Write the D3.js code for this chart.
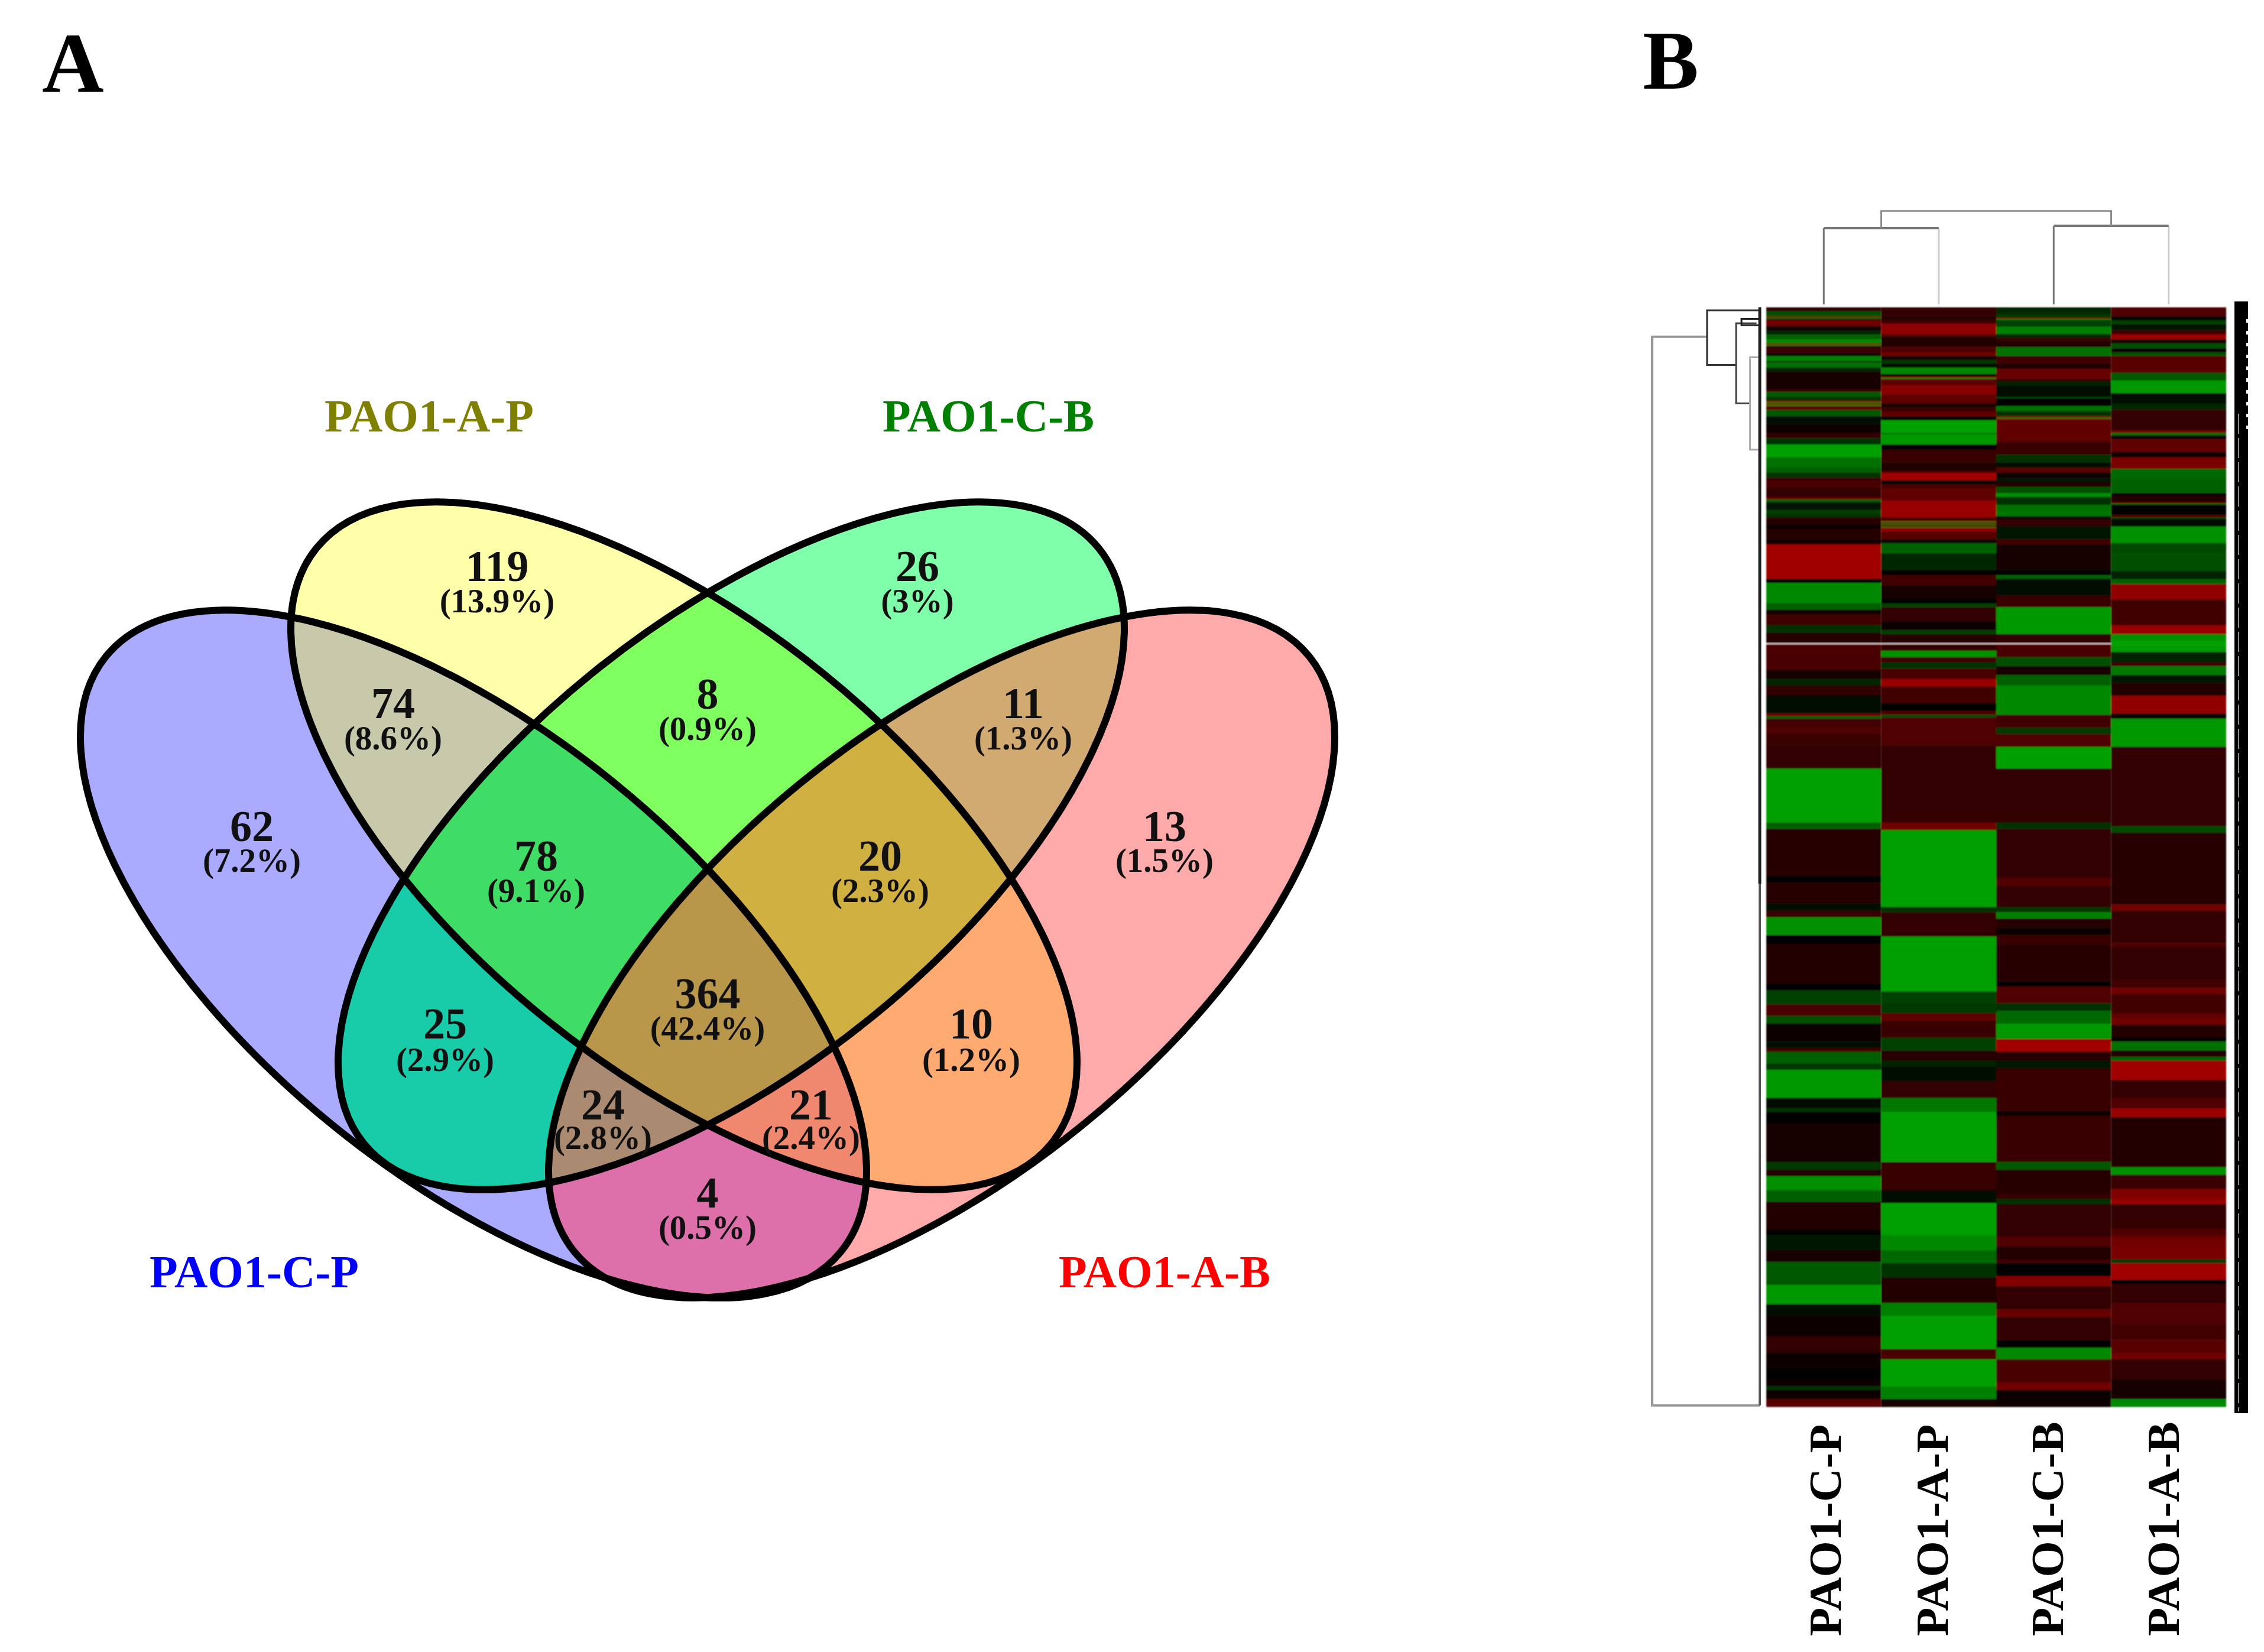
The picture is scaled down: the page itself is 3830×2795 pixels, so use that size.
<!DOCTYPE html>
<html><head><meta charset="utf-8">
<script src="https://cdn.jsdelivr.net/npm/d3@7"></script>
<style>html,body{margin:0;padding:0;background:#fff}svg{display:block}text{font-family:"Liberation Serif",serif;font-weight:bold}</style>
</head><body><svg id="c" width="3830" height="2795"></svg>
<script>
// ---------- Venn data ----------
const setNames = ["PAO1-C-P","PAO1-A-P","PAO1-C-B","PAO1-A-B"];
const setColors = ["#0000ff","#808000","#008000","#ff0000"];
// membership, count, percent, region colour
const regionSets = [[0],[1],[2],[3],[0,1],[1,2],[2,3],[0,2],[1,3],[0,3],[0,1,2],[1,2,3],[0,2,3],[0,1,3],[0,1,2,3]];
const regionCounts = [62,119,26,13,74,8,11,25,10,4,78,20,24,21,364];
const regionPcts = ["(7.2%)","(13.9%)","(3%)","(1.5%)","(8.6%)","(0.9%)","(1.3%)","(2.9%)","(1.2%)","(0.5%)","(9.1%)","(2.3%)","(2.8%)","(2.4%)","(42.4%)"];
const regionFills = ["#aaaaff","#ffffaa","#80ffaa","#ffaaaa","#c8c8aa","#80ff60","#d0aa70","#18ccaa","#ffaa70","#dd70aa","#40dd66","#d0b040","#aa8a70","#f08870","#b8964a"];
// ---------- Heat map data: [last gene row of the band, log ratio] ----------
const heatCols = ["PAO1-C-P","PAO1-A-P","PAO1-C-B","PAO1-A-B"];
const geneCount = 858;
const bandsCP = [[3,.3],[7,-.5],[8,.7],[9,-.7],[10,.3],[14,.7],[15,.5],[18,.15],[21,-.2],[25,-.6],[28,-.85],[29,.8],[30,-.8],[36,.35],[38,.1],[42,-.8],[43,-.2],[47,-.7],[50,-.25],[64,.12],[66,.35],[70,-.55],[73,-.3],[74,.8],[75,-.8],[76,.8],[77,-.8],[80,.6],[85,-.55],[91,-.1],[98,.1],[102,.3],[107,-.3],[117,-1],[125,-.7],[129,-.6],[133,-.3],[135,.35],[141,.45],[148,.3],[150,.6],[152,-.6],[158,-.15],[161,-.4],[164,-.3],[166,.3],[170,.2],[173,.1],[181,.25],[184,.1],[185,.3],[212,1],[215,0],[231,-.85],[236,-.6],[240,.15],[248,.4],[254,-.3],[262,.25],[263,null],[283,.45],[290,.15],[295,-.25],[303,.3],[317,-.05],[319,.7],[321,-.6],[327,.4],[333,.5],[342,.35],[360,.3],[402,-1],[407,-.6],[444,.25],[449,0],[465,.25],[471,-.1],[476,.35],[490,-.9],[497,0],[528,.2],[533,0],[544,-.4],[553,.45],[559,-.5],[573,.05],[578,-.1],[581,.4],[590,-.6],[595,-.35],[617,-.95],[625,-.1],[628,-.3],[637,0],[667,.15],[673,-.35],[678,.2],[689,-.9],[698,-.6],[720,.2],[724,0],[736,-.15],[745,.15],[763,-.55],[778,-.95],[787,-.1],[803,.05],[816,.3],[828,.05],[837,0],[842,.1],[845,-.3],[852,.05],[858,.55]];
const bandsAP = [[7,.3],[9,.2],[11,.3],[13,.45],[21,.9],[23,.5],[28,.2],[31,.25],[35,.5],[38,.7],[41,.1],[44,-.35],[47,-.05],[52,-.85],[54,-.1],[55,.8],[56,-.8],[61,.6],[68,.85],[75,.6],[78,.15],[81,.35],[85,.6],[88,.05],[98,-1],[99,-.7],[107,-.95],[111,0],[121,.35],[128,.2],[129,.5],[135,1],[136,.3],[138,0],[141,.45],[151,.6],[164,.95],[166,.4],[167,.7],[168,-.7],[169,.7],[170,-.7],[171,.7],[172,-.7],[175,.9],[181,.55],[184,.1],[192,-.6],[205,-.25],[209,0],[217,.4],[227,.15],[231,0],[234,-.4],[245,.3],[252,.1],[255,-.4],[262,.25],[263,null],[268,.3],[273,-.9],[277,.4],[282,-.3],[290,.45],[296,.95],[309,.4],[315,0],[318,.5],[320,-.5],[342,.5],[402,.3],[408,.7],[468,-1],[472,-.3],[491,.3],[534,-1],[543,-.4],[551,-.35],[557,.6],[570,.35],[580,-.4],[588,.25],[593,-.2],[604,-.05],[617,.3],[628,-.75],[667,-1],[689,.35],[699,-.05],[724,-1],[736,-.85],[746,-.65],[757,-.3],[777,.2],[787,-.8],[813,-1],[821,.45],[842,-1],[852,-.8],[858,.15]];
const bandsCB = [[5,-.25],[8,-.35],[9,.8],[10,-.8],[15,-.4],[21,-.8],[24,-.2],[26,.4],[31,.2],[38,-.7],[44,.4],[48,.2],[56,.65],[58,.3],[61,-.2],[70,-.05],[71,-.5],[77,0],[81,-.7],[85,-.3],[86,.8],[87,-.8],[88,.8],[105,.6],[115,.35],[121,-.3],[125,-.1],[126,.5],[129,.55],[133,.1],[136,-.15],[140,.2],[145,-.5],[148,-.9],[154,-.3],[159,-.7],[163,-.75],[165,-.1],[171,.3],[181,-.15],[185,.4],[205,.15],[209,0],[212,-.6],[225,-.1],[234,.35],[255,-.95],[262,.3],[263,null],[273,.45],[280,-.5],[287,.15],[295,-.6],[318,-.85],[328,.4],[333,-.35],[343,.5],[360,-1],[402,.3],[407,-.3],[445,.3],[452,.5],[468,.3],[472,-.35],[477,-.8],[484,.25],[490,.05],[497,.35],[526,.25],[530,0],[543,.5],[549,-.3],[559,-.65],[571,-.95],[581,1],[588,.25],[594,-.15],[627,.35],[631,.1],[667,.35],[673,-.55],[691,.25],[696,.3],[700,-.3],[725,.3],[733,.5],[743,.2],[746,.4],[756,0],[764,.8],[782,.3],[788,.65],[806,.3],[812,0],[821,-.85],[839,.45],[845,.7],[858,.1]];
const bandsAB = [[7,.5],[10,0],[13,-.4],[18,-.15],[21,.4],[25,.95],[28,.15],[32,-.5],[35,.1],[38,-.5],[51,.55],[57,-.55],[67,-.95],[72,-.05],[75,-.1],[80,-.25],[82,.35],[96,.3],[98,.7],[100,-.7],[103,.15],[113,.6],[117,.1],[126,.75],[134,-.65],[145,-.6],[147,0],[152,.2],[153,.7],[154,-.7],[162,.03],[164,.5],[165,-.5],[171,-.08],[184,-.9],[192,-.45],[206,-.5],[212,-.2],[216,-.6],[228,.9],[248,.4],[255,.95],[260,-.9],[264,-1],[269,-.95],[277,-.2],[280,.4],[287,-.75],[293,-.15],[303,.2],[317,.9],[321,.1],[343,-.95],[405,.3],[410,-.45],[466,.25],[471,.7],[496,.3],[499,.5],[525,.3],[531,.4],[536,.7],[551,.4],[555,.6],[560,.7],[570,.2],[573,0],[580,-.7],[585,.2],[588,-.6],[603,1],[617,.3],[625,.5],[632,.95],[671,.2],[677,-.9],[688,.35],[696,.8],[700,.95],[719,.3],[725,.5],[732,.7],[743,.75],[746,-.35],[759,1],[762,0],[777,.3],[793,.5],[806,.4],[816,.55],[821,.7],[837,.3],[852,.15],[858,-.85]];
// dendrograms: [parent height, near row/col, near child height, far row/col, far child height, colour, width]
const rowMerges = [[1,23,.49,857,0,"#999",4],[.49,2.3,0,45,.22,"#333",3],[.22,12.5,.03,75,.09,"#444",3],[.09,39,0,111,0,"#aaa",3],[.17,9,0,14,0,"#222",3]];
const colMerges = [[.816,0,0,1,0,"#777","#ccc"],[.842,2,0,3,0,"#777","#ccc"]];
const colRootHeight = 1;

const svg = d3.select("#c");
const defs = svg.append("defs");
// ---------- Venn geometry ----------
const ellipseA = 800, ellipseB = 375, vennMid = 1197;
const shapes = [
 {cx:801, cy:1614, rot:39},
 {cx:1157,cy:1431, rot:39},
 {cx:2*vennMid-1157,cy:1431, rot:-39},
 {cx:2*vennMid-801, cy:1614, rot:-39}
];
function addEllipse(sel,s){
  return sel.append("ellipse").attr("rx",ellipseA).attr("ry",ellipseB)
    .attr("transform",`translate(${s.cx},${s.cy}) rotate(${s.rot})`);
}
shapes.forEach((s,i)=>addEllipse(defs.append("clipPath").attr("id","set"+i),s));
const venn = svg.append("g");
regionSets.forEach((members,i)=>{
  let g = venn;
  members.forEach(m=>{ g = g.append("g").attr("clip-path",`url(#set${m})`); });
  g.append("rect").attr("x",0).attr("y",700).attr("width",2400).attr("height",1600).attr("fill",regionFills[i]);
});
shapes.forEach(s=>addEllipse(venn,s).attr("fill","none").attr("stroke","#000").attr("stroke-width",12));

const regionCentres = [[426,1398,1460],[841,958,1021],[1552,958,1021],[1970,1398,1460],[665,1190,1253],[1197,1174,1237],[1731,1190,1253],[753,1732,1797],[1643,1732,1797],[1197,2018,2081],[907,1448,1511],[1489,1448,1511],[1020,1869,1929],[1372,1869,1929],[1197,1681,1744]];
regionCounts.forEach((n,i)=>{
  const [x,y1,y2]=regionCentres[i];
  const t = venn.append("text").attr("text-anchor","middle").attr("fill","#111");
  t.append("tspan").attr("x",x).attr("y",y1+25).attr("font-size",74).text(n);
  t.append("tspan").attr("x",x).attr("y",y2+15).attr("font-size",57).text(regionPcts[i]);
});
const setLabelPos = [[430,2153],[726,705],[1672,705],[1970,2153]];
setNames.forEach((n,i)=>{
  venn.append("text").attr("x",setLabelPos[i][0]).attr("y",setLabelPos[i][1]+25).attr("text-anchor","middle")
    .attr("font-size",78).attr("fill",setColors[i]).text(n);
});
svg.append("text").attr("x",71).attr("y",156).attr("font-size",145).attr("fill","#000").text("A");
svg.append("text").attr("x",2779).attr("y",150).attr("font-size",142).attr("fill","#000").text("B");

// ---------- Heat map ----------
const x = d3.scaleBand().domain(heatCols).range([2988,3766]);
const y = d3.scaleLinear().domain([0,geneCount]).range([520,2380]);
const colour = d3.scaleLinear().domain([-1,0,1]).range(["#00a000","#000000","#a00000"]);
const f = defs.append("filter").attr("id","soft").attr("x","-2%").attr("y","-2%").attr("width","104%").attr("height","104%");
f.append("feGaussianBlur").attr("stdDeviation",1.3);
const heat = svg.append("g").attr("filter","url(#soft)");
[bandsCP,bandsAP,bandsCB,bandsAB].forEach((bands,c)=>{
  heat.selectAll(null).data(bands).enter().append("rect")
    .attr("x",x(heatCols[c])).attr("width",x.bandwidth())
    .attr("y",(d,i)=>y(i?bands[i-1][0]:0))
    .attr("height",(d,i)=>y(d[0])-y(i?bands[i-1][0]:0)+.5)
    .attr("fill",d=>d[1]===null?"#d8c4c4":colour(d[1]));
});
// column labels
const labelNudge = [29,15.5,16,17.5];
heatCols.forEach((n,i)=>{
  const bx = x(n)+x.bandwidth()/2+labelNudge[i];
  svg.append("text").attr("transform",`translate(${bx},2768) rotate(-90)`).attr("font-size",79).attr("fill","#000").text(n);
});
// column dendrogram
const hCol = d3.scaleLinear().domain([0,1]).range([515,357]);
const cx = i=>x(heatCols[i])+x.bandwidth()/2;
const dend = svg.append("g").attr("fill","none");
colMerges.forEach(m=>{
  dend.append("path").attr("d",`M${cx(m[1])},${hCol(m[2])}V${hCol(m[0])}`).attr("stroke",m[5]).attr("stroke-width",3);
  dend.append("path").attr("d",`M${cx(m[3])},${hCol(m[4])}V${hCol(m[0])}`).attr("stroke",m[6]).attr("stroke-width",3);
  dend.append("path").attr("d",`M${cx(m[1])},${hCol(m[0])}H${cx(m[3])}`).attr("stroke","#777").attr("stroke-width",4);
});
const mid0=(cx(0)+cx(1))/2, mid1=(cx(2)+cx(3))/2;
dend.append("path").attr("d",`M${mid0},${hCol(colMerges[0][0])}V${hCol(colRootHeight)}H${mid1}V${hCol(colMerges[1][0])}`).attr("stroke","#8a8a8a").attr("stroke-width",3);
// row dendrogram
const hRow = d3.scaleLinear().domain([0,1]).range([2977,2795]);
rowMerges.forEach(m=>{
  dend.append("path").attr("d",`M${hRow(m[2])},${y(m[1])}H${hRow(m[0])}V${y(m[3])}H${hRow(m[4])}`).attr("stroke",m[5]).attr("stroke-width",m[6]);
});
dend.append("line").attr("x1",2977).attr("x2",2977).attr("y1",y(0)).attr("y2",y(450)).attr("stroke","#222").attr("stroke-width",5);
dend.append("line").attr("x1",2977).attr("x2",2977).attr("y1",y(450)).attr("y2",y(857)).attr("stroke","#555").attr("stroke-width",4);
// squeezed gene label strip on the right
svg.append("rect").attr("x",3780).attr("y",510).attr("width",23).attr("height",1881).attr("fill","#000");
svg.append("line").attr("x1",3787).attr("x2",3787).attr("y1",700).attr("y2",2388).attr("stroke","#bbb").attr("stroke-width",1.5).attr("stroke-dasharray","34,7");
svg.append("line").attr("x1",3803).attr("x2",3803).attr("y1",540).attr("y2",740).attr("stroke","#fff").attr("stroke-width",6).attr("stroke-dasharray","6,14");
</script></body></html>
